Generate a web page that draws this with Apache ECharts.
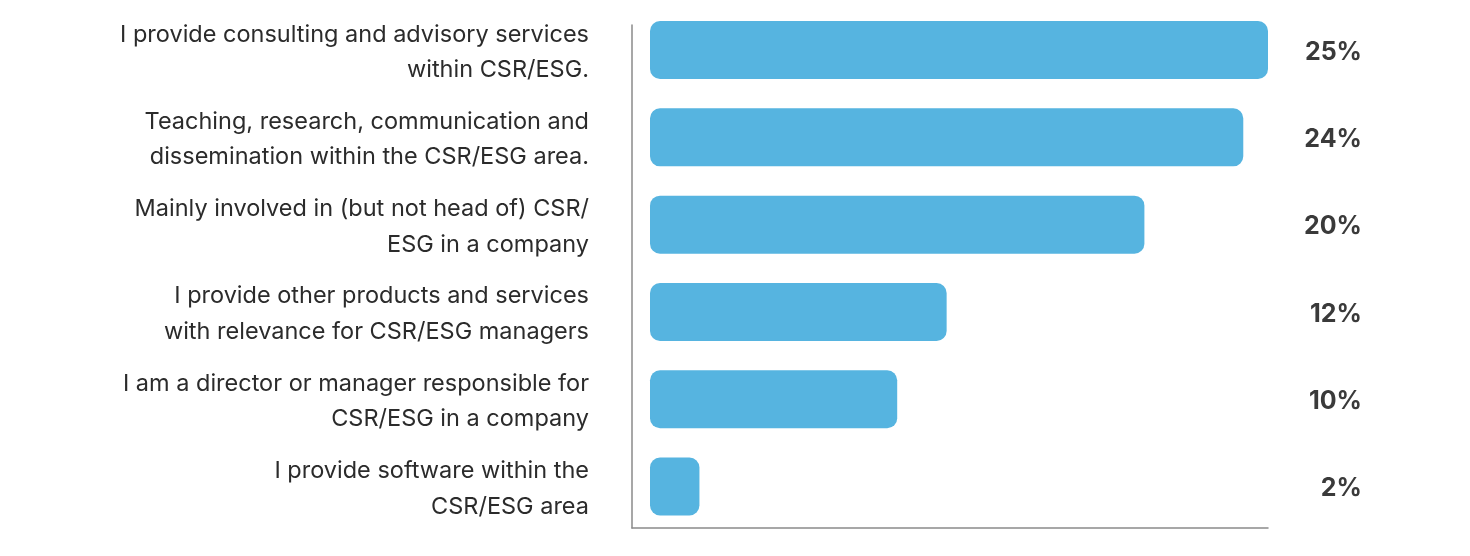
<!DOCTYPE html>
<html>
<head>
<meta charset="utf-8">
<script src="https://cdn.jsdelivr.net/npm/echarts@6/dist/echarts.min.js"></script>
<style>
html,body{margin:0;padding:0;background:#fff;}
#chart{width:1470px;height:556px;}
</style>
</head>
<body>
<div id="chart"></div>
<script>
const categories = [
  "I provide consulting and advisory services\nwithin CSR/ESG.",
  "Teaching, research, communication and\ndissemination within the CSR/ESG area.",
  "Mainly involved in (but not head of) CSR/\nESG in a company",
  "I provide other products and services\nwith relevance for CSR/ESG managers",
  "I am a director or manager responsible for\nCSR/ESG in a company",
  "I provide software within the\nCSR/ESG area"
];
const values = [25, 24, 20, 12, 10, 2];
const valueLabels = values.map(v => v + "%");

const hiddenAxis = {show: false};
const chart = echarts.init(document.getElementById('chart'), null, {renderer: 'canvas'});
chart.setOption({
  animation: false,
  backgroundColor: '#ffffff',
  grid: [
    {left: 650, right: 202, top: 6.4, bottom: 25.8},
    {left: 632, right: 202, top: 25, bottom: 28},
    {left: 650, right: 202, top: 8.6, bottom: 23.6}
  ],
  xAxis: [
    {gridIndex: 0, type: 'value', min: 0, max: 25, show: false},
    {gridIndex: 1, type: 'value', min: 0, max: 1,
     axisLine: {show: true, onZero: false, lineStyle: {color: '#8a8a8a', width: 1.5}},
     axisTick: {show: false}, axisLabel: {show: false}, splitLine: {show: false}},
    {gridIndex: 2, type: 'value', min: 0, max: 25, show: false}
  ],
  yAxis: [
    {gridIndex: 0, type: 'category', data: categories, inverse: true, show: false},
    {gridIndex: 1, type: 'value', min: 0, max: 1,
     axisLine: {show: true, onZero: false, lineStyle: {color: '#8a8a8a', width: 1.5}},
     axisTick: {show: false}, axisLabel: {show: false}, splitLine: {show: false}},
    {gridIndex: 2, type: 'category', data: categories, inverse: true,
     axisLine: {show: false}, axisTick: {show: false}, splitLine: {show: false},
     axisLabel: {margin: 61, align: 'right', color: '#2b2b2b', fontSize: 23.5,
       lineHeight: 35.5, fontFamily: 'Inter, sans-serif'}},
    {gridIndex: 2, type: 'category', data: valueLabels, inverse: true, position: 'right',
     axisLine: {show: false}, axisTick: {show: false}, splitLine: {show: false},
     axisLabel: {margin: 94, align: 'right', color: '#3a3a3a', fontSize: 25,
       fontWeight: 'bold', fontFamily: 'Inter, sans-serif'}}
  ],
  series: [
    {type: 'bar', xAxisIndex: 0, yAxisIndex: 0, data: values, barWidth: 58,
     itemStyle: {color: '#56b4e0', borderRadius: 10}}
  ]
});
</script>
</body>
</html>
